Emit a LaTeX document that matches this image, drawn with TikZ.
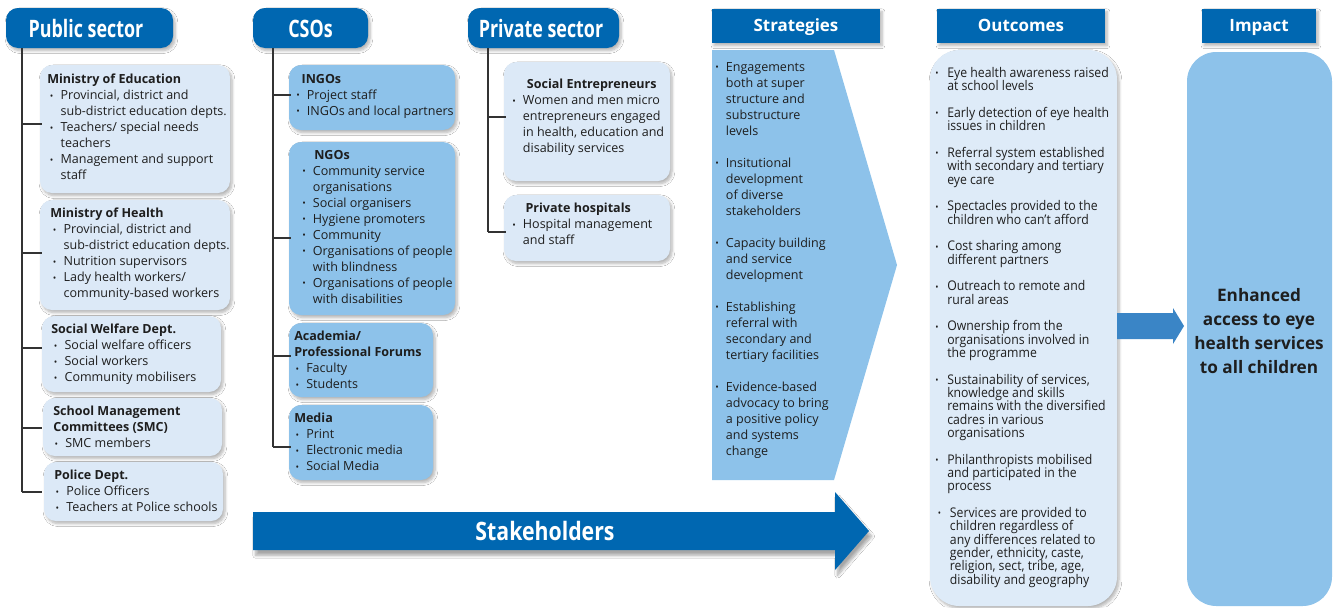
\documentclass[tikz,border=0pt]{standalone}
\usepackage{fontspec}
\setmainfont{Open Sans}
\newfontfamily\condfont{Open Sans}[FakeStretch=0.745]
\newfontfamily\stkfont{Open Sans}[FakeStretch=0.84]
\newfontfamily\outfont{Open Sans}[FakeStretch=0.92]
\usetikzlibrary{shadows.blur}
\definecolor{dblue}{HTML}{0067B1}
\definecolor{lbox}{HTML}{DCE9F7}
\definecolor{mbox}{HTML}{8DC2EA}
\definecolor{obox}{HTML}{DEEBF8}
\definecolor{txt}{HTML}{1E1E1E}
\definecolor{arr}{HTML}{3A85C6}
\newcommand{\bu}{\makebox[8pt][l]{\raisebox{0.5pt}{\scriptsize•}}}
\newcommand{\ind}{\hspace*{8pt}}
\newcommand{\obu}{\makebox[9pt][l]{\raisebox{0.5pt}{\scriptsize•}}}
\newcommand{\oind}{\hspace*{9pt}}
\newcommand{\tightls}{\lineskiplimit=-20pt\relax\lineskip=0pt\relax}
\tikzset{
  shad/.style={blur shadow={shadow xshift=1.5pt,shadow yshift=-2pt,shadow blur steps=6,shadow opacity=30}},
  sechead/.style={fill=dblue,rounded corners=9pt,shad,draw=none},
  sectxt/.style={anchor=base,text=white,font=\condfont\bfseries\fontsize{18}{20}\selectfont,inner sep=0pt},
  colhead/.style={fill=dblue,draw=none,shad},
  coltxt/.style={anchor=base,text=white,font=\bfseries\fontsize{12.7}{14}\selectfont,inner sep=0pt},
  lbx/.style={fill=lbox,rounded corners=9pt,draw=none,shad},
  mbx/.style={fill=mbox,rounded corners=9pt,draw=none,shad},
  btxt/.style={anchor=north west,yshift=-3pt,inner sep=0pt,align=left,text=txt,font=\fontsize{9.4}{12}\selectfont},
  otxt/.style={anchor=north west,inner sep=0pt,align=left,text=txt,font=\outfont\fontsize{10}{10}\selectfont\tightls},
  tree/.style={draw=black!80,line width=1.5pt},
}
\begin{document}
\begin{tikzpicture}[x=0.75pt,y=-0.75pt]
\useasboundingbox (0,0) rectangle (1335,607);
\fill[white] (0,0) rectangle (1335,607);

% ---------- Public sector ----------
\path[sechead] (6,8) rectangle (173,48);
\node[sectxt] (hpub) at (86,37) {Public sector};
\coordinate (pubtop) at (22,48);
\coordinate (pubbot) at (22,492);
\draw[tree] (pubtop) -- (pubbot);
\path[lbx] (40,65) rectangle (230,193);
\path[lbx] (40,200) rectangle (230,310);
\path[lbx] (42,316) rectangle (221,392);
\path[lbx] (43,398) rectangle (222,456);
\path[lbx] (44,462) rectangle (223,521);
\node[btxt] (edu) at (47,70) {\textbf{Ministry of Education}\\
\hspace*{2pt}\bu Provincial, district and\\
\hspace*{2pt}\ind sub-district education depts.\\
\hspace*{2pt}\bu Teachers/ special needs\\
\hspace*{2pt}\ind teachers\\
\hspace*{2pt}\bu Management and support\\
\hspace*{2pt}\ind staff};
\node[btxt] (hea) at (50,204) {\textbf{Ministry of Health}\\
\hspace*{2pt}\bu Provincial, district and\\
\hspace*{2pt}\ind sub-district education depts.\\
\hspace*{2pt}\bu Nutrition supervisors\\
\hspace*{2pt}\bu Lady health workers/\\
\hspace*{2pt}\ind community-based workers};
\node[btxt] (swd) at (51,320) {\textbf{Social Welfare Dept.}\\
\hspace*{2pt}\bu Social welfare officers\\
\hspace*{2pt}\bu Social workers\\
\hspace*{2pt}\bu Community mobilisers};
\node[btxt] (smc) at (53,402) {\textbf{School Management}\\
\textbf{Committees (SMC)}\\
\hspace*{1pt}\bu SMC members};
\node[btxt] (pol) at (54,466) {\textbf{Police Dept.}\\
\hspace*{1pt}\bu Police Officers\\
\hspace*{1pt}\bu Teachers at Police schools};
\foreach \yy in {124,253,348,428,492}{\draw[tree] (22,\yy) -- (42,\yy);}

% ---------- CSOs ----------
\path[sechead] (253,8) rectangle (368,48);
\node[sectxt] (hcso) at (310.5,37) {CSOs};
\coordinate (csotop) at (273,48);
\coordinate (csobot) at (273,447);
\draw[tree] (csotop) -- (csobot);
\path[mbx] (289,65) rectangle (455,130);
\path[mbx] (289,142) rectangle (455,315);
\path[mbx] (289,323) rectangle (433,397);
\path[mbx] (289,405) rectangle (433,480);
\node[btxt] (ingo) at (296,70) {\hspace*{4pt}\textbf{INGOs}\\
\bu Project staff\\
\bu INGOs and local partners};
\node[btxt] (ngo) at (302,146) {\hspace*{9pt}\textbf{NGOs}\\
\bu Community service\\
\ind organisations\\
\bu Social organisers\\
\bu Hygiene promoters\\
\bu Community\\
\bu Organisations of people\\
\ind with blindness\\
\bu Organisations of people\\
\ind with disabilities};
\node[btxt] (aca) at (294,327) {\textbf{Academia/}\\
\textbf{Professional Forums}\\
\hspace*{1pt}\bu Faculty\\
\hspace*{1pt}\bu Students};
\node[btxt] (med) at (294,409) {\textbf{Media}\\
\hspace*{1pt}\bu Print\\
\hspace*{1pt}\bu Electronic media\\
\hspace*{1pt}\bu Social Media};
\foreach \yy in {95,238,356,447}{\draw[tree] (273,\yy) -- (291,\yy);}

% ---------- Private sector ----------
\path[sechead] (468,8) rectangle (619,48);
\node[sectxt] (hpri) at (541,37) {Private sector};
\coordinate (pritop) at (488,48);
\coordinate (pribot) at (488,232);
\draw[tree] (pritop) -- (pribot);
\path[lbx] (504,62) rectangle (670,181);
\path[lbx] (504,195) rectangle (670,261);
\node[btxt] (soc) at (512,75) {\hspace*{11pt}\textbf{Social Entrepreneurs}\\
\bu Women and men micro\\
\ind entrepreneurs engaged\\
\ind in health, education and\\
\ind disability services};
\node[btxt] (hos) at (512,199) {\hspace*{10pt}\textbf{Private hospitals}\\
\bu Hospital management\\
\ind and staff};
\foreach \yy in {117,232}{\draw[tree] (488,\yy) -- (506,\yy);}

% ---------- Strategies ----------
\path[colhead] (712,9) rectangle (880,43);
\node[coltxt] (hstr) at (796,31.5) {Strategies};
\path[fill=mbox] (712,50) -- (834,50) -- (897,265) -- (834,480) -- (712,480) -- cycle;
\node[btxt] (str) at (715,58) {\bu Engagements\\
\ind both at super\\
\ind structure and\\
\ind substructure\\
\ind levels\\[12pt]
\bu Insitutional\\
\ind development\\
\ind of diverse\\
\ind stakeholders\\[12pt]
\bu Capacity building\\
\ind and service\\
\ind development\\[12pt]
\bu Establishing\\
\ind referral with\\
\ind secondary and\\
\ind tertiary facilities\\[12pt]
\bu Evidence-based\\
\ind advocacy to bring\\
\ind a positive policy\\
\ind and systems\\
\ind change};

% ---------- Outcomes ----------
\path[colhead] (937,9) rectangle (1105,43);
\node[coltxt] (hout) at (1021,31.5) {Outcomes};
\path[fill=obox,rounded corners=22pt,shad] (930,50) rectangle (1117,606);
\node[otxt] (out) at (935,67) {\obu Eye health awareness raised\\
\oind at school levels\\[10pt]
\obu Early detection of eye health\\
\oind issues in children\\[10pt]
\obu Referral system established\\
\oind with secondary and tertiary\\
\oind eye care\\[10pt]
\obu Spectacles provided to the\\
\oind children who can’t afford\\[10pt]
\obu Cost sharing among\\
\oind different partners\\[10pt]
\obu Outreach to remote and\\
\oind rural areas\\[10pt]
\obu Ownership from the\\
\oind organisations involved in\\
\oind the programme\\[10pt]
\obu Sustainability of services,\\
\oind knowledge and skills\\
\oind remains with the diversified\\
\oind cadres in various\\
\oind organisations\\[10pt]
\obu Philanthropists mobilised\\
\oind and participated in the\\
\oind process\\[10pt]
\hspace*{2pt}\obu Services are provided to\\
\hspace*{2pt}\oind children regardless of\\
\hspace*{2pt}\oind any differences related to\\
\hspace*{2pt}\oind gender, ethnicity, caste,\\
\hspace*{2pt}\oind religion, sect, tribe, age,\\
\hspace*{2pt}\oind disability and geography};

% ---------- Impact ----------
\path[colhead] (1202,9) rectangle (1316,43);
\node[coltxt] (himp) at (1259,31.5) {Impact};
\path[fill=mbox,rounded corners=22pt] (1187,52) rectangle (1332,606);
\node[align=center,text=txt,font=\bfseries\fontsize{12.9}{18}\selectfont,inner sep=0pt] (imp) at (1259,331)
  {Enhanced\\access to eye\\health services\\to all children};

% outcome -> impact arrow
\coordinate (oa) at (1117,326);
\coordinate (ia) at (1184,326);
\path[fill=arr] (1117,313) -- (1173,313) -- (1173,308) -- (ia) -- (1173,344) -- (1173,339) -- (1117,339) -- cycle;

% ---------- Stakeholders arrow ----------
\path[fill=dblue,blur shadow={shadow xshift=2pt,shadow yshift=-4pt,shadow blur steps=8,shadow opacity=35}]
  (253,512) -- (835,512) -- (835,492) -- (869,531) -- (835,570) -- (835,550) -- (253,550) -- cycle;
\node[anchor=base,text=white,font=\stkfont\bfseries\fontsize{19}{20}\selectfont,inner sep=0pt] (stk) at (545,540) {Stakeholders};
\end{tikzpicture}
\end{document}
